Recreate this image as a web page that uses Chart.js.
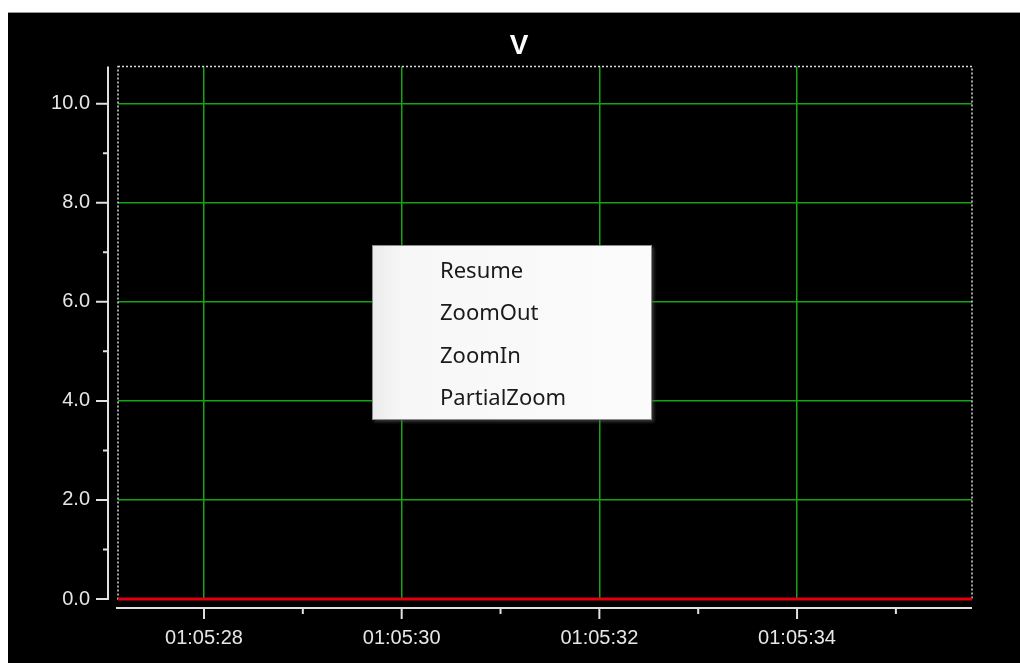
<!DOCTYPE html>
<html>
<head>
<meta charset="utf-8">
<title>V</title>
<script src="https://cdn.jsdelivr.net/npm/chart.js@4.4.1/dist/chart.umd.min.js"></script>
<style>
  html, body { margin: 0; padding: 0; background: #fff; width: 1020px; height: 663px; overflow: hidden; }
  #wrap { position: absolute; left: 8px; top: 12px; width: 1012px; height: 651px; background: #000; border-top: 1px solid #9a9a9a; box-sizing: border-box; }
  #menu {
    position: absolute; left: 372px; top: 245px; width: 280px; height: 175px;
    background: linear-gradient(to right, #ececec 0, #f7f7f7 30px, #fbfbfb 100%);
    border: 1px solid #8c8c8c; box-sizing: border-box;
    box-shadow: 2px 2px 3px rgba(90, 90, 90, 0.6);
    font-family: "Noto Sans", "Open Sans", sans-serif; font-size: 22px; color: #1a1a1a;
  }
  #menu div { position: absolute; left: 67px; line-height: 26px; }
</style>
</head>
<body>
<div id="wrap"><canvas id="chart"></canvas></div>
<div id="menu">
  <div style="top:10px">Resume</div>
  <div style="top:52px">ZoomOut</div>
  <div style="top:95px">ZoomIn</div>
  <div style="top:137px">PartialZoom</div>
</div>
<script>
// seconds past 01:05:00 and the measured voltage at each sample
const times = [27.13, 27.6, 28.1, 28.6, 29.1, 29.6, 30.1, 30.6, 31.1, 31.6, 32.1, 32.6, 33.1, 33.6, 34.1, 34.6, 35.1, 35.6, 35.77];
const volts = [0, 0, 0, 0, 0, 0, 0, 0, 0, 0, 0, 0, 0, 0, 0, 0, 0, 0, 0];
const xMin = 27.13, xMax = 35.77;
const yMin = 0, yMax = 10.75;

const gridGreen = '#17a317';
const textColor = '#e6e6e6';

function pad2(n) { return String(n).padStart(2, '0'); }

// dotted frame, offset axis lines and their tick marks
const axesPlugin = {
  id: 'scopeAxes',
  beforeDatasetsDraw(chart) {
    const { ctx, chartArea: a } = chart;
    ctx.save();
    ctx.strokeStyle = '#dcdcdc';
    ctx.lineWidth = 1.5;
    ctx.setLineDash([2, 2]);
    ctx.strokeRect(a.left, a.top, a.right - a.left, a.bottom - a.top);
    ctx.restore();
  },
  afterDraw(chart) {
    const { ctx, chartArea: a } = chart;
    const xs = chart.scales.x, ys = chart.scales.y;
    ctx.save();
    ctx.strokeStyle = '#e0e0e0';
    ctx.lineWidth = 2;
    // y axis
    const yx = a.left - 10;
    const y0 = ys.getPixelForValue(0);
    ctx.beginPath();
    ctx.moveTo(yx, a.top);
    ctx.lineTo(yx, y0);
    ys.ticks.forEach(t => {
      const py = ys.getPixelForValue(t.value);
      const len = t.value % 2 === 0 ? 12 : 5;
      ctx.moveTo(yx + 1, py);
      ctx.lineTo(yx - len, py);
    });
    ctx.stroke();
    // x axis
    const xy = a.bottom + 9;
    ctx.beginPath();
    ctx.moveTo(a.left - 2, xy);
    ctx.lineTo(a.right, xy);
    xs.ticks.forEach(t => {
      const px = xs.getPixelForValue(t.value);
      const len = t.value % 2 === 0 ? 11 : 6;
      ctx.moveTo(px, xy);
      ctx.lineTo(px, xy + len);
    });
    ctx.stroke();
    ctx.restore();
  }
};

new Chart(document.getElementById('chart'), {
  type: 'line',
  data: {
    labels: times,
    datasets: [{
      label: 'V',
      data: times.map((t, i) => ({ x: t, y: volts[i] })),
      borderColor: '#e00010',
      borderWidth: 3,
      pointRadius: 0,
      tension: 0,
      clip: false
    }]
  },
  options: {
    responsive: true,
    maintainAspectRatio: false,
    animation: false,
    layout: { padding: { left: 10, right: 0, top: 0, bottom: 0 } },
    plugins: {
      legend: { display: false },
      tooltip: { enabled: false },
      title: {
        display: true,
        text: 'V',
        color: '#ffffff',
        font: { family: 'Liberation Sans, Arial, sans-serif', size: 28, weight: 'bold' },
        padding: { top: 16, bottom: 4 }
      }
    },
    scales: {
      x: {
        type: 'linear',
        min: xMin,
        max: xMax,
        border: { display: false },
        grid: {
          drawTicks: false,
          lineWidth: 1.5,
          color: c => (c.tick && c.tick.value % 2 === 0) ? gridGreen : 'transparent'
        },
        ticks: {
          stepSize: 1,
          includeBounds: false,
          autoSkip: false,
          maxRotation: 0,
          padding: 27,
          color: textColor,
          font: { family: 'Liberation Sans, Arial, sans-serif', size: 20 },
          callback: v => v % 2 === 0 ? '01:05:' + pad2(v) : ''
        },
        afterFit: s => { s.height = 64; }
      },
      y: {
        min: yMin,
        max: yMax,
        border: { display: false },
        grid: {
          drawTicks: false,
          lineWidth: 1.5,
          color: c => (c.tick && c.tick.value % 2 === 0 && c.tick.value > 0) ? gridGreen : 'transparent'
        },
        ticks: {
          stepSize: 1,
          includeBounds: false,
          autoSkip: false,
          padding: 28,
          color: textColor,
          font: { family: 'Liberation Sans, Arial, sans-serif', size: 20 },
          callback: v => v % 2 === 0 ? v.toFixed(1) : ''
        },
        afterFit: s => { s.width = 100; }
      },
      // empty strip on the right side of the plot
      right: {
        position: 'right',
        min: yMin,
        max: yMax,
        border: { display: false },
        grid: { display: false },
        ticks: { display: false },
        afterFit: s => { s.width = 48; }
      }
    }
  },
  plugins: [axesPlugin]
});
</script>
</body>
</html>
